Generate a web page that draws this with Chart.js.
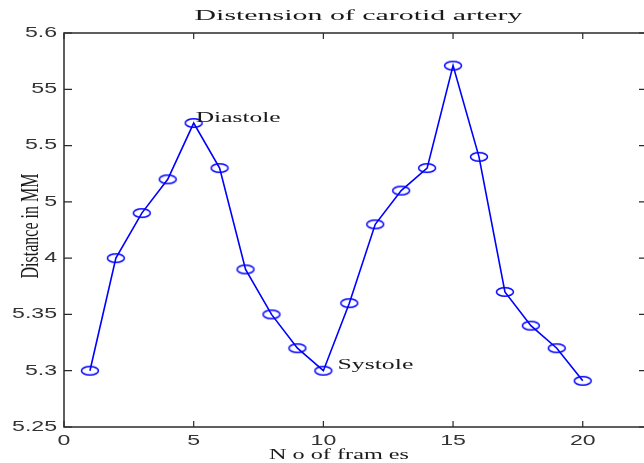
<!DOCTYPE html>
<html>
<head>
<meta charset="utf-8">
<script src="https://cdn.jsdelivr.net/npm/chart.js@4"></script>
<style>
  html, body { margin: 0; padding: 0; background: #fff; overflow: hidden; }
  #wrap { width: 644px; height: 463px; overflow: hidden; }
</style>
</head>
<body>
<div id="wrap"><canvas id="grafico" width="680" height="463"></canvas></div>
<script>
// data
const frames = [1, 2, 3, 4, 5, 6, 7, 8, 9, 10, 11, 12, 13, 14, 15, 16, 17, 18, 19, 20]
const distance = [5.30, 5.40, 5.44, 5.47, 5.52, 5.48, 5.39, 5.35, 5.32, 5.30,
                  5.36, 5.43, 5.46, 5.48, 5.571, 5.49, 5.37, 5.34, 5.32, 5.291]
const xTicks = [0, 5, 10, 15, 20]
const xTickLabels = ['0', '5', '10', '15', '20']
const yTicks = [5.25, 5.3, 5.35, 5.4, 5.45, 5.5, 5.55, 5.6]
const yTickLabels = ['5.25', '5.3', '5.35', '4', '5', '5.5', '55', '5.6']
const notas = [
  { texto: 'Diastole', x: 5, y: 5.52, dx: 2, dy: -5, largura: 85 },
  { texto: 'Systole', x: 10, y: 5.30, dx: 14, dy: -6, largura: 76 }
]

const azul = '#0000ff'
const preto = '#1a1a1a'

// ellipse marker (picture is stretched sideways)
function criaMarcador() {
  let c = document.createElement('canvas')
  c.width = 22
  c.height = 12
  let ctx = c.getContext('2d')
  ctx.strokeStyle = azul
  ctx.lineWidth = 1.5
  ctx.beginPath()
  ctx.ellipse(11, 6, 8.5, 4.3, 0, 0, Math.PI * 2)
  ctx.stroke()
  return c
}

function textoEsticado(ctx, texto, x, y, largura, align) {
  let w = ctx.measureText(texto).width
  let s = largura / w
  ctx.save()
  ctx.translate(x, y)
  ctx.scale(s, 1)
  ctx.textAlign = align
  ctx.fillText(texto, 0, 0)
  ctx.restore()
}

const eixos = {
  id: 'eixos',
  afterDatasetsDraw(chart) {
    const { ctx, chartArea: a, scales } = chart
    const sx = scales.x, sy = scales.y
    ctx.save()
    ctx.strokeStyle = '#2a2a2a'
    ctx.lineWidth = 1.5
    ctx.strokeRect(a.left, a.top, a.right - a.left, a.bottom - a.top)

    ctx.lineWidth = 1.2
    ctx.beginPath()
    xTicks.forEach(v => {
      let px = sx.getPixelForValue(v)
      ctx.moveTo(px, a.bottom); ctx.lineTo(px, a.bottom - 6)
      ctx.moveTo(px, a.top); ctx.lineTo(px, a.top + 6)
    })
    yTicks.forEach(v => {
      let py = sy.getPixelForValue(v)
      ctx.moveTo(a.left, py); ctx.lineTo(a.left + 8, py)
      ctx.moveTo(a.right, py); ctx.lineTo(a.right - 6, py)
    })
    ctx.stroke()

    // tick labels
    ctx.fillStyle = '#333'
    ctx.font = '14px "Liberation Sans", Arial, sans-serif'
    ctx.textBaseline = 'middle'
    yTicks.forEach((v, i) => {
      let lab = yTickLabels[i]
      let w = ctx.measureText(lab).width * 1.65
      textoEsticado(ctx, lab, a.left - 7, sy.getPixelForValue(v), w, 'right')
    })
    xTicks.forEach((v, i) => {
      let lab = xTickLabels[i]
      let w = ctx.measureText(lab).width * 1.65
      textoEsticado(ctx, lab, sx.getPixelForValue(v), a.bottom + 14, w, 'center')
    })

    // titles
    ctx.fillStyle = preto
    ctx.font = '15px "Liberation Serif", "Times New Roman", serif'
    ctx.textBaseline = 'alphabetic'
    textoEsticado(ctx, 'Distension of carotid artery', (a.left + a.right) / 2 + 4, 20, 328, 'center')
    textoEsticado(ctx, 'N o of fram es', 339, 459, 140, 'center')

    ctx.save()
    ctx.font = '16px "Liberation Serif", "Times New Roman", serif'
    ctx.translate(38, 226)
    ctx.scale(1.55, 1)
    ctx.rotate(-Math.PI / 2)
    ctx.textAlign = 'center'
    ctx.fillText('Distance in MM', 0, 0)
    ctx.restore()

    // annotations
    ctx.font = '15px "Liberation Serif", "Times New Roman", serif'
    ctx.textBaseline = 'middle'
    notas.forEach(n => {
      let px = sx.getPixelForValue(n.x) + n.dx
      let py = sy.getPixelForValue(n.y) + n.dy
      textoEsticado(ctx, n.texto, px, py, n.largura, 'left')
    })
    ctx.restore()
  }
}

const grafico = document.getElementById('grafico')

const graficoDistensao = new Chart(grafico, {
  type: 'line',
  data: {
    datasets: [{
      label: 'Distension',
      data: frames.map((f, i) => ({ x: f, y: distance[i] })),
      borderColor: azul,
      borderWidth: 1.6,
      pointStyle: criaMarcador(),
      pointRadius: 6,
      tension: 0
    }]
  },
  options: {
    responsive: false,
    animation: false,
    layout: { padding: { left: 0, right: 35, top: 33, bottom: 0 } },
    plugins: { legend: { display: false }, title: { display: false }, tooltip: { enabled: false } },
    scales: {
      x: {
        type: 'linear',
        min: 0,
        max: 22.4,
        grid: { display: false },
        border: { display: false },
        ticks: { display: false },
        afterFit: s => { s.height = 36 }
      },
      y: {
        min: 5.25,
        max: 5.6,
        grid: { display: false },
        border: { display: false },
        ticks: { display: false },
        afterFit: s => { s.width = 64 }
      }
    }
  },
  plugins: [eixos]
})
</script>
</body>
</html>
